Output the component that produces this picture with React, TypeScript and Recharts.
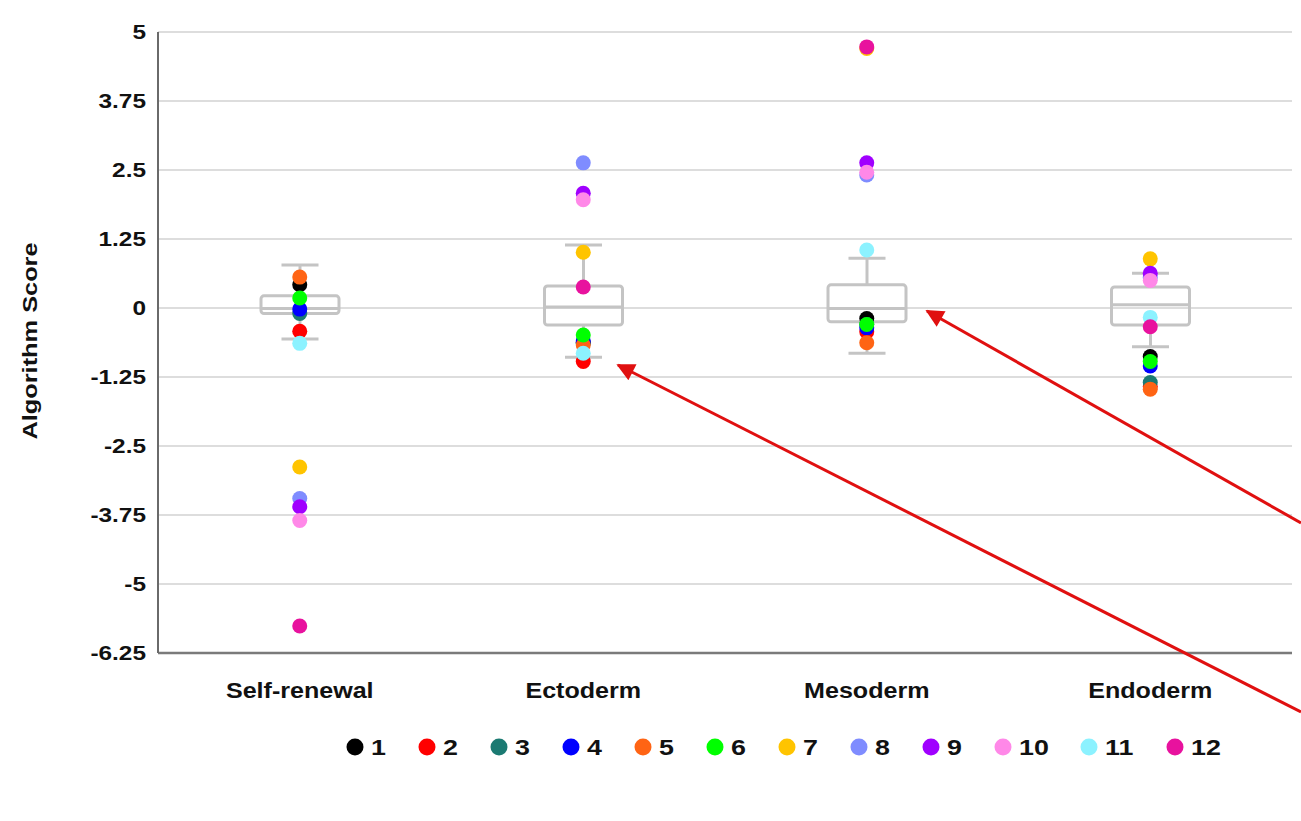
import React from 'react';
import { ComposedChart, Bar, Scatter, XAxis, YAxis, CartesianGrid } from 'recharts';

const categories = ['Self-renewal', 'Ectoderm', 'Mesoderm', 'Endoderm'];

// box statistics per category
const whiskerLow = [-0.56, -0.89, -0.82, -0.7];
const q1 = [-0.1, -0.31, -0.25, -0.31];
const median = [-0.01, 0.02, -0.01, 0.06];
const q3 = [0.22, 0.4, 0.42, 0.38];
const whiskerHigh = [0.78, 1.14, 0.9, 0.63];

// sample values per category (Self-renewal, Ectoderm, Mesoderm, Endoderm)
const s1 = [0.42, -0.62, -0.19, -0.88];
const s2 = [-0.42, -0.97, -0.43, -1.42];
const s3 = [-0.1, -0.64, -0.3, -1.35];
const s4 = [-0.02, -0.6, -0.36, -1.05];
const s5 = [0.56, -0.67, -0.63, -1.47];
const s6 = [0.18, -0.49, -0.3, -0.97];
const s7 = [-2.88, 1.01, 4.7, 0.89];
const s8 = [-3.45, 2.63, 2.41, 0.55];
const s9 = [-3.6, 2.08, 2.63, 0.63];
const s10 = [-3.85, 1.96, 2.46, 0.5];
const s11 = [-0.64, -0.82, 1.05, -0.17];
const s12 = [-5.76, 0.38, 4.73, -0.34];

const seriesNames = ['1', '2', '3', '4', '5', '6', '7', '8', '9', '10', '11', '12'];
const seriesValues = [s1, s2, s3, s4, s5, s6, s7, s8, s9, s10, s11, s12];
const seriesColors = [
  '#000000', '#ff0000', '#1b7a72', '#0000ff', '#ff6414', '#00ff00',
  '#ffc400', '#7f8cff', '#a000ff', '#ff88e8', '#8cf2ff', '#e8129e',
];

const yTicks = [5, 3.75, 2.5, 1.25, 0, -1.25, -2.5, -3.75, -5, -6.25];

const data = categories.map((c, i) => {
  const row: any = {
    category: c,
    range: [whiskerLow[i], whiskerHigh[i]],
    wl: whiskerLow[i],
    q1: q1[i],
    med: median[i],
    q3: q3[i],
    wh: whiskerHigh[i],
  };
  seriesValues.forEach((vals, k) => {
    row['s' + (k + 1)] = vals[i];
  });
  return row;
});

const FONT = '"Liberation Sans", Arial, sans-serif';
const BOX = '#c4c4c4';

const BoxShape = (props: any) => {
  const { x, y, width, height, payload } = props;
  if (!payload || height == null) return null;
  const ppu = height / (payload.wh - payload.wl);
  const py = (v: number) => y + (payload.wh - v) * ppu;
  const cx = x + width / 2;
  const cap = 18.5;
  return (
    <g fill="none" stroke={BOX} strokeWidth={3}>
      <line x1={cx} x2={cx} y1={py(payload.wh)} y2={py(payload.q3)} />
      <line x1={cx} x2={cx} y1={py(payload.q1)} y2={py(payload.wl)} />
      <line x1={cx - cap} x2={cx + cap} y1={py(payload.wh)} y2={py(payload.wh)} />
      <line x1={cx - cap} x2={cx + cap} y1={py(payload.wl)} y2={py(payload.wl)} />
      <rect x={x} y={py(payload.q3)} width={width} height={py(payload.q1) - py(payload.q3)} rx={3} />
      <line x1={x} x2={x + width} y1={py(payload.med)} y2={py(payload.med)} />
    </g>
  );
};

const makeDot = (color: string) => (props: any) => {
  const { cx, cy } = props;
  if (cx == null || cy == null) return null;
  return <circle cx={cx} cy={cy} r={7.5} fill={color} />;
};

const YTick = (props: any) => {
  const { x, y, payload } = props;
  return (
    <g transform={`translate(${x},${y})`}>
      <text
        transform="scale(1.22,1)"
        textAnchor="end"
        dy="0.36em"
        fontFamily={FONT}
        fontWeight="bold"
        fontSize={20}
        fill="#111"
      >
        {payload.value}
      </text>
    </g>
  );
};

const XTick = (props: any) => {
  const { x, y, payload } = props;
  return (
    <g transform={`translate(${x},${y})`}>
      <text
        transform="scale(1.14,1)"
        textAnchor="middle"
        dy="0.71em"
        fontFamily={FONT}
        fontWeight="bold"
        fontSize={22}
        fill="#111"
      >
        {payload.value}
      </text>
    </g>
  );
};

const legendStep = (label: string) => 58 + 14 * label.length;

export default function App() {
  let lx = 355;
  const legendItems = seriesNames.map((name, i) => {
    const item = { name, color: seriesColors[i], x: lx };
    lx += legendStep(name);
    return item;
  });

  return (
    <div style={{ position: 'absolute', left: 0, top: 0, width: 1301, height: 821, background: '#fff' }}>
      <ComposedChart
        width={1301}
        height={821}
        data={data}
        margin={{ top: 32, right: 9, left: 58, bottom: 108 }}
      >
        <CartesianGrid vertical={false} stroke="#d2d2d2" strokeWidth={1.5} />
        <XAxis
          dataKey="category"
          type="category"
          height={60}
          tickLine={false}
          tickSize={0}
          tickMargin={29}
          axisLine={{ stroke: '#7a7a7a', strokeWidth: 2.5 }}
          tick={<XTick />}
          interval={0}
        />
        <YAxis
          type="number"
          domain={[-6.25, 5]}
          ticks={yTicks}
          interval={0}
          width={100}
          tickLine={false}
          tickSize={0}
          tickMargin={12}
          axisLine={{ stroke: '#6a6a6a', strokeWidth: 2 }}
          tick={<YTick />}
          allowDataOverflow
        />
        <Bar dataKey="range" barSize={78} shape={BoxShape} isAnimationActive={false} />
        {seriesNames.map((name, k) => (
          <Scatter
            key={name}
            name={name}
            dataKey={'s' + (k + 1)}
            fill={seriesColors[k]}
            shape={makeDot(seriesColors[k])}
            isAnimationActive={false}
          />
        ))}
      </ComposedChart>
      <svg
        width={1301}
        height={821}
        style={{ position: 'absolute', left: 0, top: 0, pointerEvents: 'none' }}
      >
        <defs>
          <marker id="ah" viewBox="0 0 10 10" refX="9" refY="5" markerWidth="7" markerHeight="6" orient="auto" markerUnits="strokeWidth">
            <path d="M0,0 L10,5 L0,10 z" fill="#e01010" />
          </marker>
        </defs>
        <text
          transform="translate(37,341) rotate(-90) scale(1.3,1)"
          textAnchor="middle"
          fontFamily={FONT}
          fontWeight="bold"
          fontSize={19.5}
          fill="#111"
        >
          Algorithm Score
        </text>
        {legendItems.map((it) => (
          <g key={it.name}>
            <circle cx={it.x} cy={747} r={8.5} fill={it.color} />
            <text
              transform={`translate(${it.x + 16},747) scale(1.22,1)`}
              dy="0.36em"
              fontFamily={FONT}
              fontWeight="bold"
              fontSize={22}
              fill="#111"
            >
              {it.name}
            </text>
          </g>
        ))}
        <line x1={1301} y1={523} x2={927} y2={311} stroke="#e01010" strokeWidth={3} markerEnd="url(#ah)" />
        <line x1={1301} y1={712} x2={618} y2={365} stroke="#e01010" strokeWidth={3} markerEnd="url(#ah)" />
      </svg>
    </div>
  );
}
